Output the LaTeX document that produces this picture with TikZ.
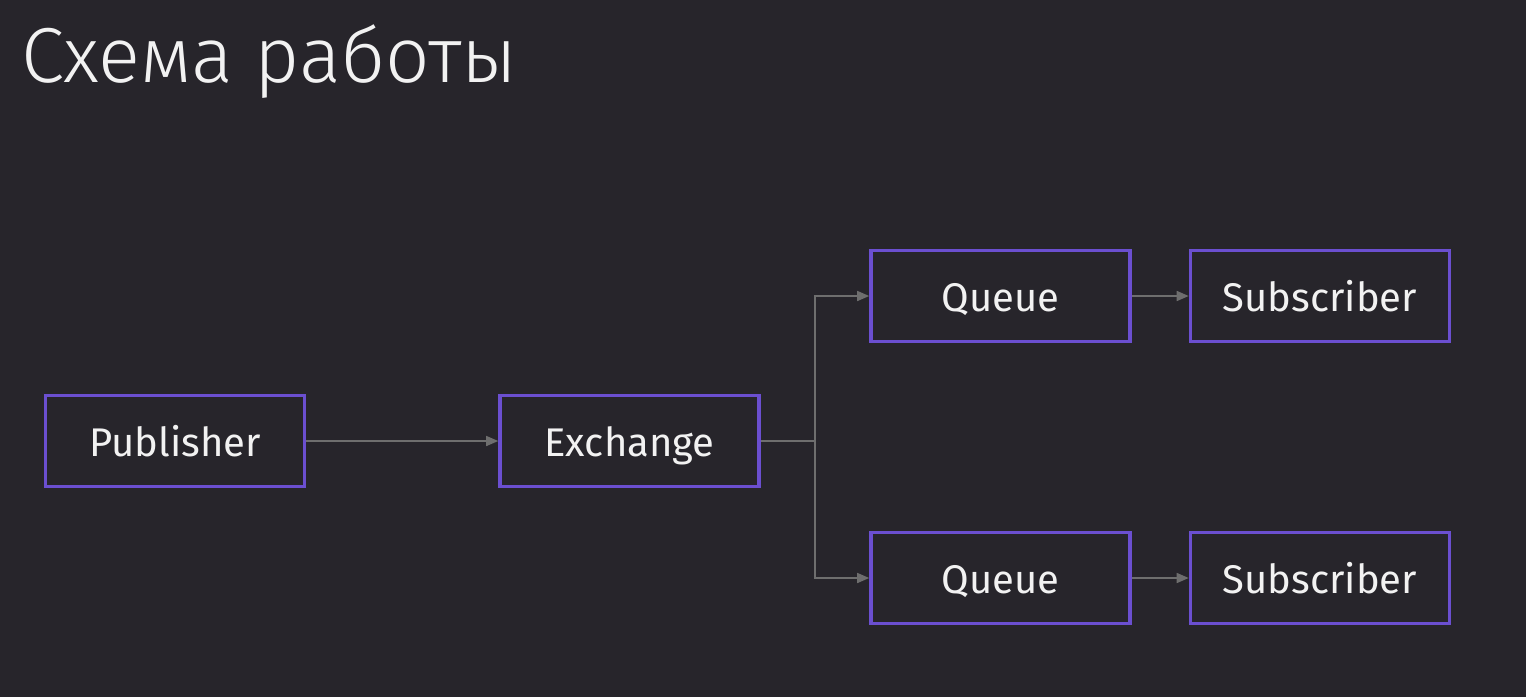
\documentclass[tikz,border=0pt]{standalone}
\usepackage{fontspec}
\setmainfont{Fira Sans}
\newfontfamily\titlefont{Fira Sans Light}
\usetikzlibrary{arrows.meta}
\definecolor{bg}{HTML}{27252B}
\definecolor{boxline}{HTML}{6B4FD0}
\definecolor{conn}{HTML}{6E6E6E}
\definecolor{txt}{HTML}{F2F2F2}
\tikzset{
  box/.style={draw=boxline, line width=3.6pt, minimum width=259pt, minimum height=91pt, inner sep=0pt, text height=30pt, text depth=0pt, text=txt, font=\fontsize{40}{44}\selectfont},
  conn/.style={draw=conn, line width=1.5pt, -{Triangle[length=12pt,width=10pt]}},
  connplain/.style={draw=conn, line width=1.5pt}
}
\begin{document}
\begin{tikzpicture}[x=1pt,y=-1pt]
\fill[bg] (0,0) rectangle (1526,697);
\useasboundingbox (0,0) rectangle (1526,697);
\node[anchor=base west, text=txt, inner sep=0pt, font=\titlefont\fontsize{78}{84}\selectfont] (title) at (21,82) {Схема работы};
\node[box] (pub) at (175,441) {Publisher};
\node[box] (ex) at (629.5,441) {Exchange};
\node[box] (q1) at (1000.5,296) {Queue};
\node[box] (s1) at (1320,296) {Subscriber};
\node[box] (q2) at (1000.5,578) {Queue};
\node[box] (s2) at (1320,578) {Subscriber};
\coordinate (br) at (815,441);
\draw[conn] (pub) -- (ex);
\draw[connplain] (ex) -- (br);
\draw[conn] (br) |- (q1);
\draw[conn] (br) |- (q2);
\draw[conn] (q1) -- (s1);
\draw[conn] (q2) -- (s2);
\end{tikzpicture}
\end{document}
